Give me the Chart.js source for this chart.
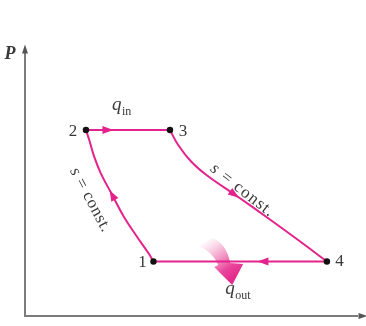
<!DOCTYPE html>
<html>
<head>
<meta charset="utf-8">
<script src="https://cdn.jsdelivr.net/npm/chart.js@4"></script>
<style>
  html, body { margin: 0; padding: 0; background: #ffffff; }
  #wrap { width: 366px; height: 326px; }
</style>
</head>
<body>
<div id="wrap"><canvas id="c" width="366" height="326"></canvas></div>
<script>
// ---- data (v = specific volume, P = pressure, arbitrary units) ----
const stateNames = ['1', '2', '3', '4'];
const stateV = [3.812, 1.809, 4.302, 8.959];
const stateP = [1.975, 6.739, 6.739, 1.975];

// isentropic compression 1 -> 2
const compV = [3.812, 3.666, 3.323, 2.933, 2.589, 2.249, 2.053, 1.906, 1.809];
const compP = [1.975, 2.272, 2.873, 3.598, 4.384, 5.170, 5.772, 6.377, 6.739];

// isentropic expansion 3 -> 4
const expV = [4.302, 4.545, 4.936, 5.425, 6.305, 7.185, 8.065, 8.959];
const expP = [6.739, 6.196, 5.591, 5.072, 4.330, 3.569, 2.790, 1.975];

const axisYLabel = 'P';
const processLabel = ['s', ' = const.'];
const heatInLabel = ['q', 'in'];
const heatOutLabel = ['q', 'out'];

// ---- build ----
const pt = i => ({ x: stateV[i], y: stateP[i] });
const zip = (xs, ys) => xs.map((x, i) => ({ x, y: ys[i] }));
const PINK = '#e4228c';
const TEXT = '#3a3a3a';
const SERIF = '"Liberation Serif", "DejaVu Serif", serif';

function arrowHead(ctx, x, y, ang, len, wid) {
  ctx.save();
  ctx.translate(x, y);
  ctx.rotate(ang);
  ctx.beginPath();
  ctx.moveTo(len / 2, 0);
  ctx.lineTo(-len / 2, -wid / 2);
  ctx.lineTo(-len / 2, wid / 2);
  ctx.closePath();
  ctx.fill();
  ctx.restore();
}

function drawQ(ctx, x, y, parts) {
  ctx.fillStyle = TEXT;
  ctx.textAlign = 'left';
  ctx.textBaseline = 'alphabetic';
  ctx.font = 'italic 19px ' + SERIF;
  ctx.fillText(parts[0], x, y);
  const w = ctx.measureText(parts[0]).width;
  ctx.font = '12px ' + SERIF;
  ctx.fillText(parts[1], x + w + 0.5, y + 5);
}

function drawProcessText(ctx, cx, cy, ang, spacing) {
  ctx.save();
  ctx.translate(cx, cy);
  ctx.rotate(ang);
  ctx.fillStyle = TEXT;
  ctx.textBaseline = 'middle';
  ctx.textAlign = 'left';
  ctx.letterSpacing = spacing + 'px';
  ctx.font = 'italic 17px ' + SERIF;
  const w1 = ctx.measureText(processLabel[0]).width;
  ctx.font = '17px ' + SERIF;
  const w2 = ctx.measureText(processLabel[1]).width;
  const start = -(w1 + w2) / 2;
  ctx.font = 'italic 17px ' + SERIF;
  ctx.fillText(processLabel[0], start, 0);
  ctx.font = '17px ' + SERIF;
  ctx.fillText(processLabel[1], start + w1, 0);
  ctx.restore();
}

const diagram = {
  id: 'diagram',
  beforeDatasetsDraw(chart) {
    const { ctx, chartArea: a, scales: { x, y } } = chart;
    ctx.save();
    // axes
    ctx.strokeStyle = '#7c7c7c';
    ctx.fillStyle = '#555555';
    ctx.lineWidth = 2;
    ctx.beginPath();
    ctx.moveTo(a.left, a.bottom + 1);
    ctx.lineTo(a.left, 50);
    ctx.moveTo(a.left - 1, a.bottom);
    ctx.lineTo(a.right - 4, a.bottom);
    ctx.stroke();
    arrowHead(ctx, a.left, 49, -Math.PI / 2, 9, 6);
    arrowHead(ctx, a.right + 1, a.bottom, 0, 9, 6);

    // q_out gradient arrow, anchored below the midpoint of 4 -> 1
    const mx = (x.getPixelForValue(stateV[3]) + x.getPixelForValue(stateV[0])) / 2;
    const my = y.getPixelForValue(stateP[0]);
    const tx = mx - 8, ty = my + 23.5;
    const g = ctx.createLinearGradient(tx - 30, ty - 44, tx - 2, ty - 4);
    g.addColorStop(0, 'rgba(245,170,205,0.0)');
    g.addColorStop(0.35, 'rgba(240,130,185,0.55)');
    g.addColorStop(0.75, 'rgba(232,60,150,0.95)');
    g.addColorStop(1, 'rgba(228,40,140,1)');
    ctx.fillStyle = g;
    ctx.beginPath();
    ctx.moveTo(tx - 34, ty - 39);
    ctx.quadraticCurveTo(tx - 20, ty - 34, tx - 14, ty - 20);
    ctx.lineTo(tx - 18, ty - 18);
    ctx.lineTo(tx, ty);
    ctx.lineTo(tx + 11, ty - 21);
    ctx.lineTo(tx - 2, ty - 22);
    ctx.quadraticCurveTo(tx - 6, ty - 42, tx - 20, ty - 47);
    ctx.closePath();
    ctx.fill();
    ctx.restore();
  },
  afterDatasetsDraw(chart) {
    const { ctx, scales: { x, y } } = chart;
    const px = v => x.getPixelForValue(v);
    const py = p => y.getPixelForValue(p);
    ctx.save();
    ctx.fillStyle = PINK;
    // direction arrows
    const top = py(stateP[1]), bot = py(stateP[0]);
    arrowHead(ctx, px(stateV[1]) + 22, top, 0, 11, 8);
    arrowHead(ctx, px(stateV[3]) - 64, bot, Math.PI, 11, 8);
    const k = 4;
    let a1 = Math.atan2(py(compP[k + 1]) - py(compP[k - 1]), px(compV[k + 1]) - px(compV[k - 1]));
    arrowHead(ctx, px(compV[k]), py(compP[k]), a1, 11, 8);
    let a2 = Math.atan2(py(expP[k + 1]) - py(expP[k - 1]), px(expV[k + 1]) - px(expV[k - 1]));
    arrowHead(ctx, px(expV[k]) - 3, py(expP[k]) - 2, a2, 11, 8);

    // state labels
    ctx.fillStyle = TEXT;
    ctx.font = '17px ' + SERIF;
    ctx.textBaseline = 'middle';
    ctx.textAlign = 'center';
    const offs = [[-11, 1], [-13, 1.5], [13, 1.5], [12.5, 0]];
    stateNames.forEach((n, i) => {
      ctx.fillText(n, px(stateV[i]) + offs[i][0], py(stateP[i]) + offs[i][1]);
    });

    // axis label
    ctx.font = 'italic bold 18px ' + SERIF;
    ctx.textAlign = 'center';
    ctx.textBaseline = 'alphabetic';
    ctx.fillText(axisYLabel, 10, 59);

    // heat labels
    const m23 = (px(stateV[1]) + px(stateV[2])) / 2;
    drawQ(ctx, m23 - 16, top - 20, heatInLabel);
    const m41 = (px(stateV[3]) + px(stateV[0])) / 2;
    drawQ(ctx, m41 - 15, bot + 33, heatOutLabel);

    // isentropic labels
    drawProcessText(ctx, px(compV[k]) - 22, py(compP[k]) + 5, 62 * Math.PI / 180, 0.6);
    drawProcessText(ctx, px(expV[k]) + 5, py(expP[k]) - 6, 38 * Math.PI / 180, 1.2);
    ctx.restore();
  }
};

new Chart(document.getElementById('c'), {
  type: 'scatter',
  data: {
    datasets: [
      { data: stateNames.map((_, i) => pt(i)), pointRadius: 3.2, pointBackgroundColor: '#111',
        pointBorderColor: '#111', pointBorderWidth: 0, showLine: false },
      { data: zip(compV, compP), showLine: true, borderColor: PINK, borderWidth: 2, pointRadius: 0, tension: 0.4 },
      { data: [pt(1), pt(2)], showLine: true, borderColor: PINK, borderWidth: 2, pointRadius: 0 },
      { data: zip(expV, expP), showLine: true, borderColor: PINK, borderWidth: 2, pointRadius: 0, tension: 0.4 },
      { data: [pt(3), pt(0)], showLine: true, borderColor: PINK, borderWidth: 2, pointRadius: 0 }
    ]
  },
  options: {
    responsive: false,
    animation: false,
    devicePixelRatio: 1,
    layout: { padding: { left: 25, right: 0, top: 40, bottom: 10 } },
    scales: {
      x: { type: 'linear', min: 0, max: 10, display: false },
      y: { type: 'linear', min: 0, max: 10, display: false }
    },
    plugins: { legend: { display: false }, tooltip: { enabled: false } },
    elements: { line: { capBezierPoints: true } }
  },
  plugins: [diagram]
});
</script>
</body>
</html>
